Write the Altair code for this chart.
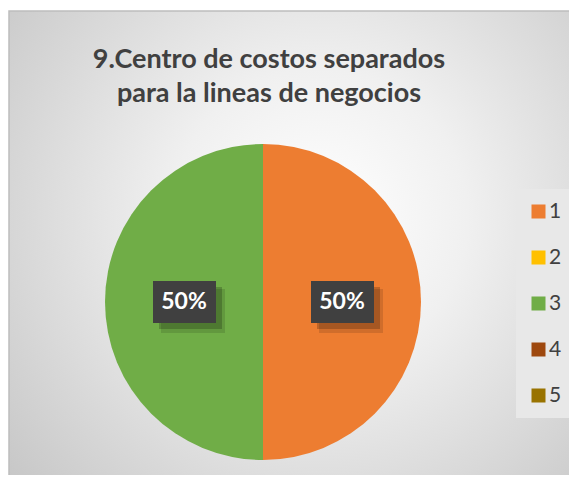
import altair as alt
import pandas as pd

categories = ["1", "2", "3", "4", "5"]
values = [1, 0, 1, 0, 0]
colors = ["#ED7D31", "#FFC000", "#70AD47", "#9E480E", "#997300"]
title_lines = ["9.Centro de costos separados", "para la lineas de negocios"]

W, H = 560, 464
CX, CY, R = 254, 291, 158
LR = 79  # label radius

df = pd.DataFrame({"cat": categories, "value": values, "idx": list(range(len(categories)))})
tdf = pd.DataFrame({"line": title_lines, "row": [0, 1]})

bg = alt.Chart(pd.DataFrame({"a": [0]})).mark_rect(
    color={
        "gradient": "radial",
        "x1": 0.55, "y1": 0.45, "r1": 0,
        "x2": 0.55, "y2": 0.45, "r2": 0.75,
        "stops": [
            {"offset": 0, "color": "#ffffff"},
            {"offset": 0.35, "color": "#f0f0f0"},
            {"offset": 1, "color": "#c4c4c4"},
        ],
    },
    stroke="#bdbdbd",
    strokeWidth=1.5,
).encode(x=alt.value(0), x2=alt.value(W + 5), y=alt.value(0), y2=alt.value(H + 5))

base = alt.Chart(df)

pie = base.mark_arc(radius=R).encode(
    x=alt.value(CX),
    y=alt.value(CY),
    theta=alt.Theta("value:Q", stack=True),
    color=alt.Color(
        "cat:N",
        scale=alt.Scale(domain=categories, range=colors),
        legend=alt.Legend(
            title=None,
            orient="none",
            legendX=507,
            legendY=178,
            symbolType="square",
            symbolSize=196,
            symbolStrokeWidth=0,
            labelFont="Lato",
            labelFontSize=21,
            labelColor="#404040",
            labelOffset=0,
            rowPadding=24,
            padding=12,
            fillColor="#e8e8e8",
        ),
    ),
    order=alt.Order("idx:Q"),
)

lab = base.transform_window(
    cum="sum(value)", sort=[alt.SortField("idx")], frame=[None, 0]
).transform_joinaggregate(total="sum(value)").transform_calculate(
    mid="(datum.cum - datum.value/2) / datum.total * 2 * PI",
    pct="format(datum.value / datum.total, '.0%')",
).transform_calculate(
    px=f"{CX} + {LR} * sin(datum.mid)",
    py=f"{CY} - {LR} * cos(datum.mid)",
).transform_calculate(
    bx1="datum.px - 31", bx2="datum.px + 32", by1="datum.py - 21", by2="datum.py + 21",
    sx1="datum.px - 25", sx2="datum.px + 38", sy1="datum.py - 15", sy2="datum.py + 27",
    tx1="datum.px - 23", tx2="datum.px + 41", ty1="datum.py - 13", ty2="datum.py + 31",
).transform_filter("datum.value > 0")

shadow2 = lab.mark_rect(color="#000000", opacity=0.12).encode(
    x=alt.X("tx1:Q", scale=None, axis=None), x2="tx2:Q",
    y=alt.Y("ty1:Q", scale=None, axis=None), y2="ty2:Q",
)
shadow = lab.mark_rect(color="#000000", opacity=0.2).encode(
    x=alt.X("sx1:Q", scale=None, axis=None), x2="sx2:Q",
    y=alt.Y("sy1:Q", scale=None, axis=None), y2="sy2:Q",
)
box = lab.mark_rect(color="#404040").encode(
    x=alt.X("bx1:Q", scale=None, axis=None), x2="bx2:Q",
    y=alt.Y("by1:Q", scale=None, axis=None), y2="by2:Q",
)
txt = lab.mark_text(
    font="Lato", fontWeight="bold", fontSize=23, color="#ffffff", align="center", baseline="middle"
).encode(
    x=alt.X("px:Q", scale=None, axis=None),
    y=alt.Y("py:Q", scale=None, axis=None),
    text="pct:N",
)

title = alt.Chart(tdf).transform_calculate(
    ty="57 + datum.row * 34"
).mark_text(
    font="Lato", fontWeight="bold", fontSize=27, color="#404040", align="center", baseline="alphabetic"
).encode(
    x=alt.value(260),
    y=alt.Y("ty:Q", scale=None, axis=None),
    text="line:N",
)

chart = alt.layer(bg, pie, shadow2, shadow, box, txt, title).properties(
    width=W,
    height=H,
    autosize=alt.AutoSizeParams(type="none"),
    padding={"left": 1, "top": 3, "right": 0, "bottom": 0},
    background="#ffffff",
).configure_view(stroke=None)

chart.save("out.html", embed_options={"renderer": "svg", "actions": False})
